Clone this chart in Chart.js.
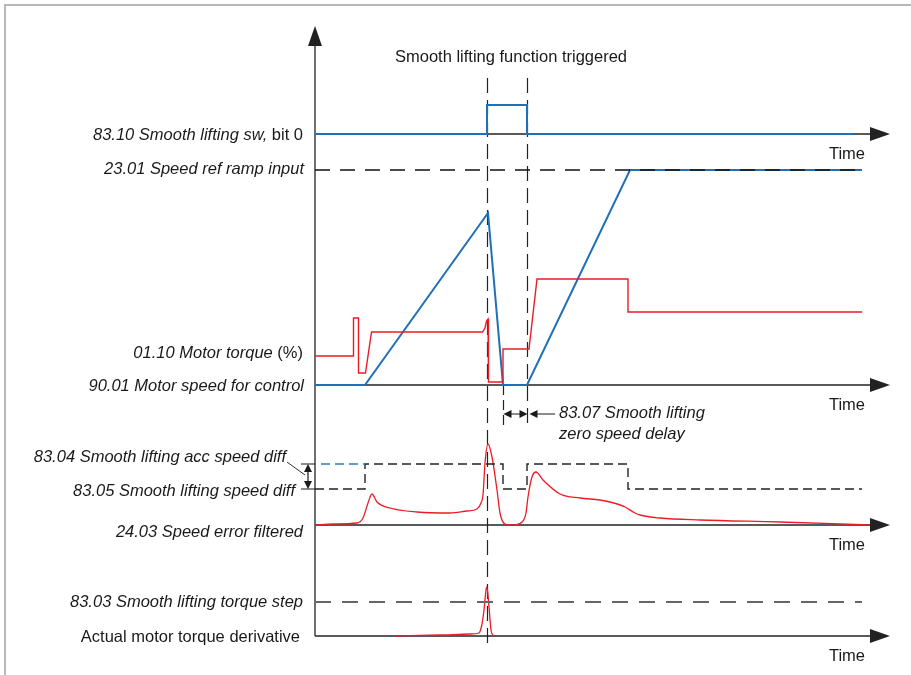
<!DOCTYPE html>
<html>
<head>
<meta charset="utf-8">
<script src="https://cdn.jsdelivr.net/npm/chart.js@4.4.1/dist/chart.umd.min.js"></script>
<style>
  html, body { margin: 0; padding: 0; background: #fff; }
  #wrap { width: 911px; height: 675px; }
</style>
</head>
<body>
<div id="wrap"><canvas id="chart" width="911" height="675"></canvas></div>
<script>
// time runs 0..115 (arbitrary units), signal values per lane

// smooth lifting triggered / released, and zero speed delay window
const triggerTimes = [34.4, 42.4]
const delayTimes = [37.6, 42.4]

// 83.10 Smooth lifting sw, bit 0
const swTime = [0, 34.4, 34.4, 42.4, 42.4, 107.6]
const swBit = [0, 0, 1, 1, 0, 0]

// 90.01 Motor speed for control (% of ramp input)
const speedTime = [0, 10, 34.6, 37.6, 42.4, 63, 109.4]
const speedPct = [0, 0, 80, 0, 0, 100, 100]

// 23.01 Speed ref ramp input
const refTime = [0, 109.4]
const refPct = [100, 100]

// 01.10 Motor torque (%)
const torqueTime = [0, 7.7, 7.7, 8.7, 8.7, 10.1, 11.3, 33.5, 34, 34.3, 34.6, 34.7, 37.6, 37.6, 42.8, 44.4, 62.6, 62.6, 109.4]
const torquePct = [29, 29, 67, 67, 12, 12, 53, 53, 57, 64, 66, 3, 3, 36, 36, 106, 106, 73, 73]

// 24.03 Speed error filtered
const errTime = [0, 3.6, 8.4, 9.6, 10.6, 11.4, 12.4, 15, 20.4, 27, 30.4, 32.4, 33.2, 33.6, 34, 34.6, 35.4, 36.4, 37, 38, 39.6, 41.4, 42.2, 42.6, 43.4, 44.2, 45.6, 49, 53, 57, 59, 62, 64, 65, 69, 77, 93, 111]
const errVal = [0, 1, 2, 7, 22, 31, 23, 17, 13, 12, 14, 16, 22, 30, 62, 81, 68, 35, 12, 1, 0, 3, 12, 28, 48, 53, 45, 31, 27, 25, 23, 18, 12, 10, 7, 5, 3, 0]

// 83.04 / 83.05 speed diff threshold
const thrTime = [0, 10, 10, 37.6, 37.6, 42.4, 42.4, 62.6, 62.6, 109.4]
const thrVal = [36, 36, 61, 61, 36, 36, 61, 61, 36, 36]
const accThrTime = [-1.6, 10]
const accThrVal = [61, 61]

// Actual motor torque derivative and 83.03 torque step
const derivTime = [16, 25, 31, 32.8, 33.4, 33.8, 34.2, 34.4, 34.8, 35.2, 35.6, 35.8]
const derivVal = [0, 1, 2, 3, 12, 26, 46, 49, 29, 6, 1, 0]
const stepTime = [0, 109.4]
const stepVal = [34, 34]

// lane baselines on the y scale and gains
const lane = { sw: 531, speed: 280, err: 140, deriv: 29 }
const gain = { sw: 29, speed: 2.15, torque: 1, err: 1, deriv: 1 }

const BLUE = '#1f70b8'
const RED = '#ec1c24'
const FONT = '"Liberation Sans", Arial, sans-serif'
const SIZE = '16.5px '

function pts(times, vals, base, g) {
  return times.map((t, i) => ({ x: t, y: base + vals[i] * g }))
}

function line(data, color, width, extra) {
  return Object.assign({
    data: data,
    borderColor: color,
    borderWidth: width,
    pointRadius: 0,
    fill: false,
    tension: 0,
  }, extra || {})
}

function text(ctx, parts, xr, yc) {
  // parts drawn right to left, [string, italic]
  let x = xr
  ctx.textAlign = 'right'
  ctx.textBaseline = 'middle'
  for (let i = parts.length - 1; i >= 0; i--) {
    ctx.font = (parts[i][1] ? 'italic ' : '') + SIZE + FONT
    ctx.fillText(parts[i][0], x, yc)
    x -= ctx.measureText(parts[i][0]).width
  }
}

function tri(ctx, x1, y1, x2, y2, x3, y3) {
  ctx.beginPath()
  ctx.moveTo(x1, y1); ctx.lineTo(x2, y2); ctx.lineTo(x3, y3)
  ctx.closePath()
  ctx.fill()
}

const decor = {
  id: 'decor',
  beforeDatasetsDraw(chart) {
    const { ctx, scales: { x, y } } = chart
    ctx.save()
    // frame
    ctx.strokeStyle = '#b8b8b8'
    ctx.lineWidth = 2
    ctx.beginPath()
    ctx.moveTo(5, 675); ctx.lineTo(5, 5); ctx.lineTo(911, 5)
    ctx.stroke()

    const x0 = x.getPixelForValue(0)
    const xEnd = x.getPixelForValue(115)
    const bases = [lane.sw, lane.speed, lane.err, lane.deriv].map(v => y.getPixelForValue(v))

    // trigger lines
    ctx.strokeStyle = '#222'
    ctx.lineWidth = 1.2
    ctx.setLineDash([15, 7])
    const xa = Math.round(x.getPixelForValue(triggerTimes[0])) + 0.5
    const xb = Math.round(x.getPixelForValue(triggerTimes[1])) + 0.5
    ctx.beginPath()
    ctx.moveTo(xa, 78); ctx.lineTo(xa, 645)
    ctx.moveTo(xb, 78); ctx.lineTo(xb, 425)
    ctx.stroke()
    const xd = Math.round(x.getPixelForValue(delayTimes[0])) + 0.5
    ctx.setLineDash([10, 5])
    ctx.beginPath()
    ctx.moveTo(xd, bases[1]); ctx.lineTo(xd, 425)
    ctx.stroke()
    ctx.setLineDash([])

    // axes
    ctx.strokeStyle = '#222'
    ctx.fillStyle = '#222'
    ctx.lineWidth = 1.3
    ctx.beginPath()
    ctx.moveTo(x0, 44); ctx.lineTo(x0, bases[3])
    ctx.stroke()
    tri(ctx, x0, 26, x0 - 7, 46, x0 + 7, 46)
    bases.forEach(b => {
      ctx.beginPath()
      ctx.moveTo(x0, b); ctx.lineTo(xEnd - 18, b)
      ctx.stroke()
      tri(ctx, xEnd, b, xEnd - 20, b - 7, xEnd - 20, b + 7)
    })
    ctx.restore()
  },
  afterDatasetsDraw(chart) {
    const { ctx, scales: { x, y } } = chart
    ctx.save()
    ctx.fillStyle = '#1a1a1a'
    ctx.strokeStyle = '#1a1a1a'
    const sw = y.getPixelForValue(lane.sw)
    const sp = y.getPixelForValue(lane.speed)
    const er = y.getPixelForValue(lane.err)
    const dv = y.getPixelForValue(lane.deriv)
    const ref = y.getPixelForValue(lane.speed + 100 * gain.speed)
    const trq = y.getPixelForValue(lane.speed + torquePct[0] * gain.torque)
    const hi = y.getPixelForValue(lane.err + 61 * gain.err)
    const lo = y.getPixelForValue(lane.err + 36 * gain.err)
    const st = y.getPixelForValue(lane.deriv + stepVal[0] * gain.deriv)

    // title
    ctx.font = SIZE + FONT
    ctx.textAlign = 'center'
    ctx.textBaseline = 'middle'
    ctx.fillText('Smooth lifting function triggered', 511, 57)

    // lane labels
    text(ctx, [['83.10 Smooth lifting sw,', true], [' bit 0', false]], 303, sw + 1)
    text(ctx, [['23.01 Speed ref ramp input', true]], 304, ref - 1)
    text(ctx, [['01.10 Motor torque ', true], ['(%)', false]], 303, trq - 3)
    text(ctx, [['90.01 Motor speed for control', true]], 304, sp + 1)
    text(ctx, [['83.04 Smooth lifting acc speed diff', true]], 286, hi - 7)
    text(ctx, [['83.05 Smooth lifting speed diff', true]], 295, lo + 2)
    text(ctx, [['24.03 Speed error filtered', true]], 303, er + 7)
    text(ctx, [['83.03 Smooth lifting torque step', true]], 303, st)
    text(ctx, [['Actual motor torque derivative', false]], 300, dv + 1)

    // "Time" under each axis
    ;[sw, sp, er, dv].forEach(b => text(ctx, [['Time', false]], 865, b + 20))

    // 83.04 / 83.05 span arrow
    const xs = 308
    ctx.lineWidth = 1.2
    ctx.beginPath()
    ctx.moveTo(xs, hi + 5); ctx.lineTo(xs, lo - 5)
    ctx.moveTo(301, hi); ctx.lineTo(315, hi)
    ctx.moveTo(301, lo); ctx.lineTo(315, lo)
    ctx.stroke()
    tri(ctx, xs, hi, xs - 4, hi + 8, xs + 4, hi + 8)
    tri(ctx, xs, lo, xs - 4, lo - 8, xs + 4, lo - 8)
    ctx.lineWidth = 0.9
    ctx.beginPath()
    ctx.moveTo(287, 462); ctx.lineTo(305, 475)
    ctx.stroke()

    // 83.07 zero speed delay
    const xd = Math.round(x.getPixelForValue(delayTimes[0])) + 0.5
    const xe = Math.round(x.getPixelForValue(delayTimes[1])) + 0.5
    const ya = 414
    ctx.lineWidth = 1.2
    ctx.beginPath()
    ctx.moveTo(xd + 6, ya); ctx.lineTo(xe - 6, ya)
    ctx.moveTo(xe + 8, ya); ctx.lineTo(555, ya)
    ctx.stroke()
    tri(ctx, xd, ya, xd + 8, ya - 4, xd + 8, ya + 4)
    tri(ctx, xe, ya, xe - 8, ya - 4, xe - 8, ya + 4)
    tri(ctx, xe + 2, ya, xe + 10, ya - 4, xe + 10, ya + 4)
    ctx.textAlign = 'left'
    ctx.textBaseline = 'middle'
    ctx.font = 'italic ' + SIZE + FONT
    ctx.fillText('83.07 Smooth lifting', 559, 413)
    ctx.fillText('zero speed delay', 559, 434)
    ctx.restore()
  }
}

new Chart(document.getElementById('chart').getContext('2d'), {
  type: 'line',
  data: {
    datasets: [
      line(pts(refTime, refPct, lane.speed, gain.speed), '#111', 1.4, { borderDash: [15, 10] }),
      line(pts(stepTime, stepVal, lane.deriv, gain.deriv), '#666', 2, { borderDash: [16, 11] }),
      line(pts(accThrTime, accThrVal, lane.err, gain.err), '#2d7cc4', 1.4, { borderDash: [9, 5] }),
      line(pts(thrTime, thrVal, lane.err, gain.err), '#222', 1.4, { borderDash: [9, 5] }),
      line(pts(swTime, swBit, lane.sw, gain.sw), BLUE, 2),
      line(pts(torqueTime, torquePct, lane.speed, gain.torque), RED, 1.4),
      line(pts(speedTime, speedPct, lane.speed, gain.speed), BLUE, 2),
      line(pts(errTime, errVal, lane.err, gain.err), RED, 1.3, { cubicInterpolationMode: 'monotone' }),
      line(pts(derivTime, derivVal, lane.deriv, gain.deriv), RED, 1.3, { cubicInterpolationMode: 'monotone' }),
    ]
  },
  options: {
    responsive: false,
    animation: false,
    devicePixelRatio: 1,
    layout: { padding: { left: 315, right: 21, top: 20, bottom: 10 } },
    plugins: { legend: { display: false }, tooltip: { enabled: false } },
    scales: {
      x: { type: 'linear', min: 0, max: 115, display: false },
      y: { type: 'linear', min: 0, max: 645, display: false },
    },
  },
  plugins: [decor],
})
</script>
</body>
</html>
